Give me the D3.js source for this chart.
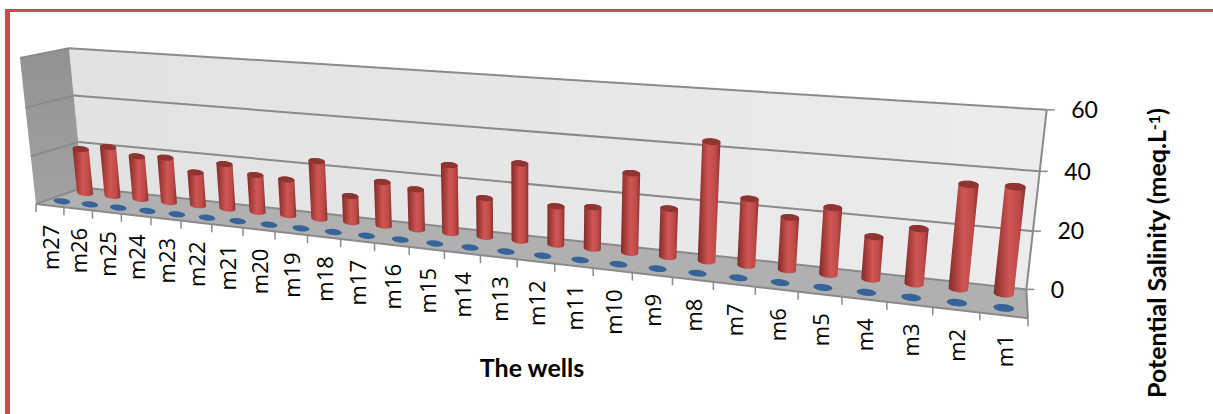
<!DOCTYPE html>
<html>
<head>
<meta charset="utf-8">
<script src="https://cdn.jsdelivr.net/npm/d3@7/dist/d3.min.js"></script>
<style>
html,body{margin:0;padding:0;background:#fff}
svg{display:block}
text{font-family:Lato,"Open Sans",sans-serif;fill:#000}
</style>
</head>
<body>
<svg id="chart" width="1213" height="414"></svg>
<script>
const wells = ["m27","m26","m25","m24","m23","m22","m21","m20","m19","m18","m17","m16","m15","m14","m13","m12","m11","m10","m9","m8","m7","m6","m5","m4","m3","m2","m1"];
const potentialSalinity = [19,21,18.2,18.8,13.8,18.5,15.2,14.6,23.2,10.5,17.4,15.8,26.4,15,29.4,14.6,15.6,29.4,17.8,43,24,18.8,23.6,14.9,19.2,35.5,36];
const secondSeries = [0,0,0,0,0,0,0,0,0,0,0,0,0,0,0,0,0,0,0,0,0,0,0,0,0,0,0];
const valueTicks = [0,20,40,60];

const svg = d3.select("#chart");
const defs = svg.append("defs");

// Category position along the floor and value height, in box units
const xBand = d3.scaleBand().domain(wells).range([0, 27]);
const yValue = d3.scaleLinear().domain([0, 60]).range([0, 60]);

// Camera: screen anchors of the plot box corners and one axis tick, as [u, depth, height, px, py]
const anchors = [
  [0,0,0,36,203],[27,0,0,1028,318],[27,1,0,1027,289],[0,1,0,83,188],
  [0,1,60,69,48],[27,1,60,1047,110],[0,0,60,20,58],[12,0,0,409,248],
  [27,1,20,1032,231],[0,1,20,78,142]
];

// Least-squares fit of the 3x4 projection matrix (last entry fixed at 1)
function fitCamera(pts) {
  const n = 11, A = d3.range(n).map(() => new Array(n + 1).fill(0));
  const addRow = (row, b) => {
    for (let i = 0; i < n; i++) {
      for (let j = 0; j < n; j++) A[i][j] += row[i] * row[j];
      A[i][n] += row[i] * b;
    }
  };
  pts.forEach(([X, Y, Z, px, py]) => {
    const x = X / 27, y = Y, z = Z / 60;
    addRow([x,y,z,1,0,0,0,0,-px*x,-px*y,-px*z], px);
    addRow([0,0,0,0,x,y,z,1,-py*x,-py*y,-py*z], py);
  });
  for (let c = 0; c < n; c++) {
    let p = c;
    for (let r = c + 1; r < n; r++) if (Math.abs(A[r][c]) > Math.abs(A[p][c])) p = r;
    [A[c], A[p]] = [A[p], A[c]];
    for (let r = 0; r < n; r++) {
      if (r === c) continue;
      const f = A[r][c] / A[c][c];
      for (let k = c; k <= n; k++) A[r][k] -= f * A[c][k];
    }
  }
  return A.map((row, i) => row[n] / row[i]);
}
const m = fitCamera(anchors);
function project(u, depth, h) {
  const x = u / 27, y = depth, z = h / 60;
  const w = m[8]*x + m[9]*y + m[10]*z + 1;
  return [(m[0]*x + m[1]*y + m[2]*z + m[3]) / w, (m[4]*x + m[5]*y + m[6]*z + m[7]) / w];
}
const poly = pts => "M" + pts.map(p => p.join(",")).join("L") + "Z";
const seg = (a, b) => "M" + a.join(",") + "L" + b.join(",");

// Frame around the figure
const frame = "#c0504d";
svg.append("rect").attr("x", 5).attr("y", 9).attr("width", 1208).attr("height", 3).attr("fill", frame);
svg.append("rect").attr("x", 5).attr("y", 9).attr("width", 5).attr("height", 405).attr("fill", frame);

// Wall shading
const grad = (id, stops, x2 = 1, y2 = 0) => {
  const g = defs.append("linearGradient").attr("id", id).attr("x1", 0).attr("y1", 0).attr("x2", x2).attr("y2", y2);
  stops.forEach(([o, c]) => g.append("stop").attr("offset", o).attr("stop-color", c));
};
grad("backWall", [[0, "#e2e2e2"], [1, "#ececec"]]);
grad("sideWall", [[0, "#929292"], [1, "#a2a2a2"]], 0, 1);
grad("redBody", [[0, "#7f2a28"], [.18, "#a03a37"], [.5, "#cf5653"], [.8, "#bd4a47"], [1, "#8c2f2c"]]);
grad("blueBody", [[0, "#2f5c90"], [1, "#3a689e"]]);

const plot = svg.append("g");
plot.append("path").attr("fill", "url(#backWall)")
  .attr("d", poly([project(0,1,0), project(27,1,0), project(27,1,60), project(0,1,60)]));
plot.append("path").attr("fill", "url(#sideWall)")
  .attr("d", poly([project(0,0,0), project(0,1,0), project(0,1,60), project(0,0,60)]));
plot.append("path").attr("fill", "#b0b0b0")
  .attr("d", poly([project(0,0,0), project(27,0,0), project(27,1,0), project(0,1,0)]));

// Gridlines on both walls and the value ticks
const lineCol = "#8a8a8a";
const line = (d, w = 2) => plot.append("path").attr("d", d).attr("fill", "none").attr("stroke", lineCol).attr("stroke-width", w);
valueTicks.forEach(v => {
  const h = yValue(v);
  const right = project(27, 1, h);
  line(seg(project(0,0,h), project(0,1,h)));
  line(seg(project(0,1,h), right));
  line(seg(right, [right[0] + 8, right[1]]), 1.5);
  svg.append("text").attr("x", right[0] + 24.5).attr("y", right[1]).attr("dy", ".36em")
    .attr("font-size", 23).text(v);
});
line(seg(project(27,1,0), project(27,1,60)));
line(seg(project(0,0,0), project(27,0,0)));
line(seg(project(27,0,0), project(27,1,0)));

// Category ticks and rotated labels along the front edge
d3.range(0, 28).forEach(i => {
  const a = project(i, 0, 0);
  line(seg(a, [a[0], a[1] + 8]), 1.5);
});
wells.forEach(w => {
  const u = xBand(w) + xBand.bandwidth() / 2;
  const p = project(u, 0, 0);
  svg.append("text").attr("transform", `translate(${p[0] + 1},${p[1] + 19}) rotate(-90)`)
    .attr("text-anchor", "end").attr("dy", ".36em").attr("font-size", 22)
    .style("font-family", '"Open Sans",sans-serif').text(w);
});

// Cylinder outline: a projected disc of fixed proportion, tilted along the floor
const radiusU = 0.22, radiusD = 0.12, flatten = 0.36;
function disc(u, depth, h) {
  const c = project(u, depth, h);
  const ring = d3.range(0, 24).map(k => {
    const t = k / 24 * 2 * Math.PI;
    return project(u + radiusU * Math.cos(t), depth + radiusD * Math.sin(t), h);
  });
  const rx = (d3.max(ring, p => p[0]) - d3.min(ring, p => p[0])) / 2;
  const ry = rx * flatten;
  const a0 = project(u - 0.5, depth, h), a1 = project(u + 0.5, depth, h);
  const tilt = Math.atan2(a1[1] - a0[1], a1[0] - a0[0]);
  return d3.range(0, 48).map(k => {
    const t = k / 48 * 2 * Math.PI;
    const ex = rx * Math.cos(t), ey = ry * Math.sin(t);
    return [c[0] + ex * Math.cos(tilt) - ey * Math.sin(tilt), c[1] + ex * Math.sin(tilt) + ey * Math.cos(tilt)];
  });
}
function cylinder(g, u, depth, h, body, cap) {
  const base = disc(u, depth, 0), top = disc(u, depth, h);
  if (h > 0) {
    g.append("path").attr("d", poly(d3.polygonHull(base.concat(top)))).attr("fill", body);
  }
  g.append("path").attr("d", poly(top)).attr("fill", cap);
}

// Series drawn back row first
const marks = svg.append("g");
wells.forEach((w, i) => {
  const u = xBand(w) + xBand.bandwidth() / 2;
  cylinder(marks, u, 0.75, yValue(potentialSalinity[i]), "url(#redBody)", "#8e3532");
});
wells.forEach((w, i) => {
  const u = xBand(w) + xBand.bandwidth() / 2;
  cylinder(marks, u, 0.25, yValue(secondSeries[i]), "url(#blueBody)", "#35639a");
});

// Axis titles
svg.append("text").attr("x", 532).attr("y", 368).attr("dy", ".36em").attr("text-anchor", "middle")
  .attr("font-size", 25).attr("font-weight", 700).text("The wells");
const yTitle = svg.append("text").attr("transform", "translate(1157,253) rotate(-90)")
  .attr("text-anchor", "middle").attr("dy", ".36em").attr("font-size", 25).attr("font-weight", 700);
yTitle.append("tspan").text("Potential Salinity (meq.L");
yTitle.append("tspan").attr("dy", "-.4em").attr("font-size", 16).text("-1");
yTitle.append("tspan").attr("dy", ".25em").text(")");
</script>
</body>
</html>
